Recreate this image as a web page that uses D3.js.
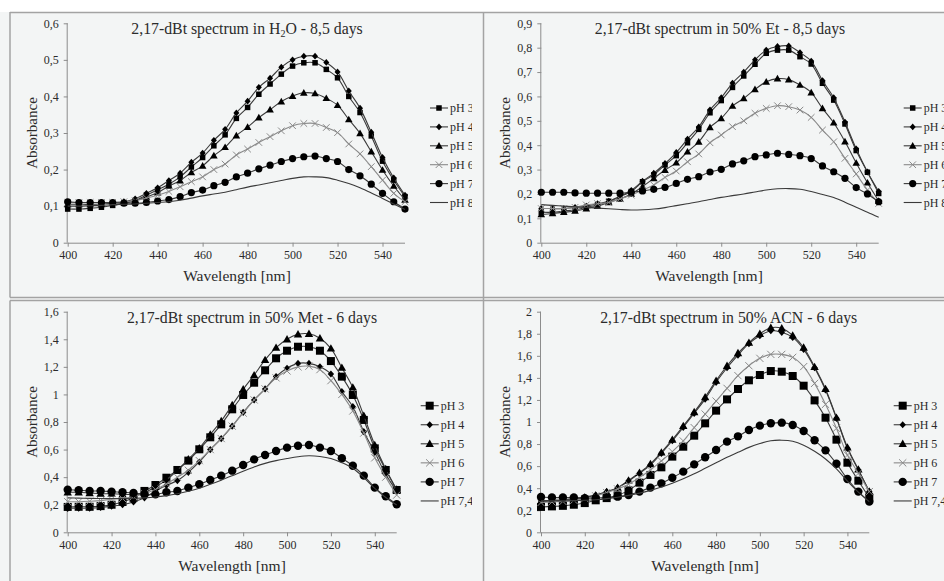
<!DOCTYPE html>
<html>
<head>
<meta charset="utf-8">
<script src="https://cdn.jsdelivr.net/npm/d3@7"></script>
<style>
body { margin: 0; background: #fff; }
svg { display: block; }
svg text { font-family: "Liberation Serif", "Times New Roman", Times, serif; }
</style>
</head>
<body>
<script>
// wavelengths (nm), one reading every 5 nm
const wavelengths = [400,405,410,415,420,425,430,435,440,445,450,455,460,465,470,475,480,485,490,495,500,505,510,515,520,525,530,535,540,545,550];
const xTicks = [400,420,440,460,480,500,520,540];

// H2O - 8,5 days
const h2o_pH3 = [0.092,0.092,0.094,0.097,0.102,0.108,0.115,0.13,0.145,0.16,0.18,0.207,0.233,0.265,0.295,0.34,0.37,0.406,0.434,0.461,0.483,0.492,0.492,0.474,0.451,0.40,0.356,0.292,0.223,0.171,0.126];
const h2o_pH4 = [0.11,0.11,0.11,0.11,0.11,0.112,0.12,0.135,0.15,0.17,0.19,0.22,0.245,0.28,0.31,0.355,0.387,0.425,0.45,0.48,0.5,0.51,0.51,0.493,0.467,0.415,0.368,0.302,0.233,0.177,0.13];
const h2o_pH5 = [0.105,0.105,0.105,0.106,0.108,0.11,0.115,0.125,0.137,0.155,0.17,0.192,0.21,0.238,0.261,0.293,0.316,0.342,0.364,0.386,0.401,0.41,0.408,0.395,0.376,0.337,0.299,0.249,0.199,0.155,0.117];
const h2o_pH6 = [0.11,0.11,0.11,0.11,0.11,0.112,0.115,0.122,0.13,0.14,0.153,0.167,0.18,0.2,0.215,0.24,0.256,0.274,0.29,0.306,0.32,0.326,0.326,0.315,0.301,0.27,0.243,0.208,0.171,0.135,0.112];
const h2o_pH7 = [0.112,0.11,0.11,0.11,0.11,0.108,0.108,0.11,0.114,0.118,0.126,0.137,0.144,0.156,0.165,0.18,0.19,0.202,0.212,0.222,0.23,0.235,0.237,0.23,0.222,0.2,0.183,0.16,0.135,0.112,0.092];
const h2o_pH8 = [0.1,0.1,0.101,0.102,0.104,0.105,0.106,0.108,0.11,0.112,0.116,0.122,0.128,0.133,0.138,0.145,0.152,0.158,0.164,0.17,0.176,0.18,0.18,0.178,0.171,0.162,0.15,0.136,0.121,0.106,0.091];

// 50% Et - 8,5 days
const et_pH3 = [0.125,0.125,0.13,0.135,0.145,0.155,0.17,0.19,0.21,0.25,0.278,0.319,0.357,0.41,0.465,0.533,0.583,0.637,0.684,0.732,0.777,0.79,0.79,0.763,0.733,0.654,0.585,0.487,0.378,0.289,0.202];
const et_pH4 = [0.14,0.14,0.14,0.145,0.15,0.16,0.17,0.19,0.215,0.252,0.285,0.325,0.37,0.425,0.475,0.545,0.595,0.655,0.7,0.75,0.79,0.805,0.807,0.78,0.745,0.665,0.595,0.495,0.385,0.29,0.21];
const et_pH5 = [0.116,0.12,0.125,0.13,0.14,0.15,0.165,0.18,0.2,0.23,0.264,0.298,0.328,0.373,0.414,0.473,0.51,0.561,0.592,0.629,0.66,0.673,0.669,0.647,0.616,0.551,0.492,0.415,0.327,0.246,0.171];
const et_pH6 = [0.14,0.14,0.14,0.145,0.155,0.16,0.165,0.18,0.195,0.216,0.237,0.268,0.294,0.332,0.364,0.41,0.442,0.476,0.5,0.531,0.551,0.562,0.558,0.544,0.514,0.462,0.414,0.346,0.282,0.216,0.161];
const et_pH7 = [0.207,0.207,0.207,0.204,0.203,0.203,0.203,0.203,0.207,0.212,0.219,0.227,0.243,0.26,0.271,0.29,0.301,0.323,0.336,0.353,0.36,0.367,0.362,0.357,0.345,0.315,0.291,0.264,0.226,0.2,0.168];
const et_pH8 = [0.156,0.153,0.15,0.147,0.145,0.142,0.139,0.136,0.134,0.135,0.138,0.144,0.152,0.16,0.168,0.177,0.186,0.193,0.2,0.208,0.216,0.221,0.222,0.219,0.21,0.198,0.185,0.166,0.145,0.125,0.104];

// 50% Met - 6 days
const met_pH3 = [0.184,0.185,0.185,0.19,0.2,0.22,0.25,0.3,0.343,0.396,0.452,0.52,0.602,0.689,0.783,0.892,0.996,1.085,1.175,1.262,1.317,1.346,1.346,1.317,1.242,1.129,0.996,0.815,0.609,0.452,0.307];
const met_pH4 = [0.174,0.175,0.175,0.18,0.19,0.2,0.22,0.25,0.3,0.34,0.375,0.435,0.51,0.6,0.68,0.77,0.87,0.96,1.04,1.13,1.19,1.225,1.225,1.2,1.148,1.02,0.911,0.73,0.58,0.42,0.3];
const met_pH5 = [0.29,0.29,0.285,0.28,0.28,0.275,0.275,0.29,0.33,0.38,0.45,0.53,0.61,0.71,0.807,0.923,1.037,1.14,1.25,1.339,1.4,1.436,1.44,1.407,1.334,1.194,1.051,0.846,0.633,0.46,0.31];
const met_pH6 = [0.222,0.222,0.225,0.23,0.24,0.245,0.26,0.28,0.31,0.35,0.4,0.45,0.52,0.6,0.68,0.77,0.865,0.96,1.04,1.12,1.17,1.2,1.205,1.18,1.1,1.0,0.88,0.72,0.54,0.4,0.27];
const met_pH7 = [0.309,0.305,0.3,0.3,0.295,0.29,0.285,0.275,0.275,0.29,0.3,0.324,0.348,0.379,0.411,0.447,0.488,0.529,0.561,0.59,0.614,0.628,0.633,0.614,0.59,0.537,0.483,0.411,0.324,0.261,0.203];
const met_pH74 = [0.25,0.248,0.246,0.245,0.245,0.245,0.247,0.25,0.256,0.266,0.28,0.298,0.32,0.348,0.378,0.41,0.443,0.474,0.5,0.52,0.535,0.548,0.555,0.55,0.535,0.505,0.464,0.396,0.318,0.252,0.198];

// 50% ACN - 6 days
const acn_pH3 = [0.23,0.235,0.24,0.25,0.265,0.29,0.31,0.335,0.38,0.45,0.52,0.589,0.686,0.776,0.876,0.988,1.103,1.205,1.299,1.378,1.426,1.462,1.456,1.417,1.329,1.196,1.039,0.84,0.631,0.468,0.314];
const acn_pH4 = [0.285,0.29,0.295,0.305,0.32,0.338,0.369,0.405,0.465,0.535,0.61,0.716,0.83,0.952,1.079,1.208,1.36,1.492,1.607,1.71,1.782,1.828,1.813,1.767,1.659,1.492,1.29,1.033,0.761,0.565,0.369];
const acn_pH5 = [0.28,0.285,0.29,0.3,0.315,0.335,0.365,0.405,0.47,0.54,0.62,0.725,0.84,0.965,1.09,1.225,1.375,1.51,1.625,1.72,1.8,1.855,1.85,1.785,1.675,1.5,1.3,1.04,0.77,0.57,0.37];
const acn_pH6 = [0.27,0.275,0.28,0.29,0.305,0.33,0.36,0.393,0.435,0.498,0.565,0.647,0.731,0.828,0.949,1.072,1.19,1.305,1.42,1.51,1.577,1.613,1.613,1.586,1.502,1.35,1.16,0.943,0.7,0.535,0.369];
const acn_pH7 = [0.32,0.315,0.315,0.315,0.31,0.31,0.315,0.323,0.338,0.369,0.405,0.444,0.495,0.55,0.616,0.68,0.746,0.822,0.87,0.927,0.967,0.988,0.994,0.973,0.918,0.834,0.743,0.622,0.483,0.369,0.278];
const acn_pH74 = [0.285,0.285,0.285,0.287,0.29,0.295,0.305,0.318,0.335,0.355,0.38,0.41,0.445,0.485,0.53,0.58,0.63,0.68,0.725,0.77,0.805,0.83,0.835,0.825,0.79,0.735,0.665,0.575,0.465,0.365,0.278];

const legendTop = ["pH 3","pH 4","pH 5","pH 6","pH 7","pH 8"];
const legendBottom = ["pH 3","pH 4","pH 5","pH 6","pH 7","pH 7,4"];
const markers = ["square","diamond","triangle","x","circle","none"];

const yTicksH2O = [0,0.1,0.2,0.3,0.4,0.5,0.6];
const yTicksEt = [0,0.1,0.2,0.3,0.4,0.5,0.6,0.7,0.8,0.9];
const yTicksMet = [0,0.2,0.4,0.6,0.8,1,1.2,1.4,1.6];
const yTicksACN = [0,0.2,0.4,0.6,0.8,1,1.2,1.4,1.6,1.8,2];

const W = 944, H = 581;
const bg = "#f3f5f5";
const ink = "#2b2b2b";
const serif = "'Liberation Serif', 'Times New Roman', Times, serif";

const svg = d3.select("body").append("svg")
  .attr("width", W)
  .attr("height", H)
  .attr("font-family", serif)

svg.append("rect").attr("width", W).attr("height", H).attr("fill", bg)
svg.append("rect").attr("width", W).attr("height", 12).attr("fill", "#fff")

// table cell borders
const borders = svg.append("g").attr("stroke", "#a3a3a3").attr("stroke-width", 1.5)
borders.append("line").attr("x1", 10).attr("x2", W).attr("y1", 12.5).attr("y2", 12.5)
borders.append("line").attr("x1", 10).attr("x2", W).attr("y1", 297.5).attr("y2", 297.5)
borders.append("line").attr("x1", 10).attr("x2", W).attr("y1", 300.5).attr("y2", 300.5)
borders.append("line").attr("x1", 10).attr("x2", 10).attr("y1", 12).attr("y2", 297.5)
borders.append("line").attr("x1", 10).attr("x2", 10).attr("y1", 300.5).attr("y2", H)
borders.append("line").attr("x1", 483.5).attr("x2", 483.5).attr("y1", 12).attr("y2", H)

const fmt = d => String(d).replace(".", ",");

const panels = [
  {
    title: [["2,17-dBt spectrum in H", false], ["2", true], ["O - 8,5 days", false]],
    series: [h2o_pH3, h2o_pH4, h2o_pH5, h2o_pH6, h2o_pH7, h2o_pH8],
    legend: legendTop, yTicks: yTicksH2O, yMax: 0.6, big: false,
    x0: 67.7, x1: 405, y0: 242.7, y1: 23.3,
    titleX: 247, titleY: 34, xlabX: 237, xlabY: 281, ylabX: 37, ylabY: 133,
    legX: 430, legY: 108, legStep: 18.9, clip: [10, 12, 462, 286]
  },
  {
    title: [["2,17-dBt spectrum in 50% Et - 8,5 days", false]],
    series: [et_pH3, et_pH4, et_pH5, et_pH6, et_pH7, et_pH8],
    legend: legendTop, yTicks: yTicksEt, yMax: 0.9, big: false,
    x0: 541.3, x1: 878.7, y0: 242.7, y1: 23.3,
    titleX: 720, titleY: 34, xlabX: 709, xlabY: 281, ylabX: 510, ylabY: 133,
    legX: 903.7, legY: 108, legStep: 18.9, clip: [484, 12, 460, 286]
  },
  {
    title: [["2,17-dBt spectrum in 50% Met - 6 days", false]],
    series: [met_pH3, met_pH4, met_pH5, met_pH6, met_pH7, met_pH74],
    legend: legendBottom, yTicks: yTicksMet, yMax: 1.6, big: true,
    x0: 67.7, x1: 396.7, y0: 532.3, y1: 311.7,
    titleX: 252, titleY: 322.5, xlabX: 232, xlabY: 570.5, ylabX: 37, ylabY: 422,
    legX: 420.7, legY: 405.7, legStep: 19.05, clip: [10, 301, 462, 280]
  },
  {
    title: [["2,17-dBt spectrum in 50% ACN - 6 days", false]],
    series: [acn_pH3, acn_pH4, acn_pH5, acn_pH6, acn_pH7, acn_pH74],
    legend: legendBottom, yTicks: yTicksACN, yMax: 2, big: true,
    x0: 541, x1: 869.3, y0: 532.3, y1: 311.7,
    titleX: 728.7, titleY: 322.5, xlabX: 705, xlabY: 570.5, ylabX: 510, ylabY: 422,
    legX: 893.7, legY: 405.7, legStep: 19.05, clip: [484, 301, 460, 280]
  }
];

function drawMarker(g, type, x, y, big, color) {
  if (type === "square") {
    const s = big ? 8 : 5.5;
    g.append("rect").attr("x", x - s / 2).attr("y", y - s / 2).attr("width", s).attr("height", s).attr("fill", "#000")
  } else if (type === "diamond") {
    const h = big ? 3.6 : 3.4, w = big ? 3.2 : 3;
    g.append("path").attr("d", `M${x},${y - h}L${x + w},${y}L${x},${y + h}L${x - w},${y}Z`).attr("fill", "#000")
  } else if (type === "triangle") {
    const s = big ? 4.2 : 3.8;
    g.append("path").attr("d", `M${x},${y - s}L${x + s},${y + s * 0.75}L${x - s},${y + s * 0.75}Z`).attr("fill", "#000")
  } else if (type === "x") {
    const s = big ? 3.6 : 3.3;
    g.append("path").attr("d", `M${x - s},${y - s}L${x + s},${y + s}M${x - s},${y + s}L${x + s},${y - s}`)
      .attr("stroke", color).attr("stroke-width", 1).attr("fill", "none")
  } else if (type === "circle") {
    g.append("circle").attr("cx", x).attr("cy", y).attr("r", big ? 4.2 : 3.6).attr("fill", "#000")
  }
}

panels.forEach((p, pi) => {
  const clipId = "clip" + pi;
  svg.append("clipPath").attr("id", clipId)
    .append("rect").attr("x", p.clip[0]).attr("y", p.clip[1]).attr("width", p.clip[2]).attr("height", p.clip[3])
  const g = svg.append("g").attr("clip-path", `url(#${clipId})`)

  const x = d3.scaleLinear().domain([400, 550]).range([p.x0, p.x1])
  const y = d3.scaleLinear().domain([0, p.yMax]).range([p.y0, p.y1])

  // axes
  const yAxis = g.append("g").attr("transform", `translate(${p.x0},0)`)
    .call(d3.axisLeft(y).tickValues(p.yTicks).tickSize(4).tickPadding(5).tickFormat(fmt))
  const xAxis = g.append("g").attr("transform", `translate(0,${p.y0})`)
    .call(d3.axisBottom(x).tickValues(xTicks).tickSize(4).tickPadding(4).tickFormat(d3.format("d")))
  ;[xAxis, yAxis].forEach(a => {
    a.attr("font-family", serif).attr("font-size", 12)
    a.select(".domain").attr("stroke", "#8c8c8c").attr("stroke-width", 1)
    a.selectAll(".tick line").attr("stroke", "#8c8c8c")
    a.selectAll("text").attr("fill", ink).attr("font-size", 12).attr("font-family", serif)
  })
  xAxis.select(".domain").attr("d", `M${p.x0},0.5H${p.x1}`)
  yAxis.select(".domain").attr("d", `M-0.5,${p.y0}V${p.y1}`)

  // series
  const line = d3.line()
    .x((d, i) => x(wavelengths[i]))
    .y(d => y(d))
    .curve(d3.curveCatmullRom)

  p.series.forEach((vals, si) => {
    const col = markers[si] === "x" ? "#8a8a8a" : "#3a3a3a";
    g.append("path").datum(vals)
      .attr("d", line)
      .attr("fill", "none")
      .attr("stroke", col)
      .attr("stroke-width", 1.1)
    if (markers[si] !== "none") {
      const mg = g.append("g")
      vals.forEach((v, i) => drawMarker(mg, markers[si], x(wavelengths[i]), y(v), p.big, col))
    }
  })

  // title
  const t = g.append("text").attr("x", p.titleX).attr("y", p.titleY)
    .attr("text-anchor", "middle").attr("font-size", 15.8).attr("fill", ink).attr("font-family", serif)
  p.title.forEach(([txt, sub], k) => {
    const ts = t.append("tspan").text(txt)
    if (sub) ts.attr("font-size", 10).attr("dy", 3)
    else if (k > 0) ts.attr("dy", -3)
  })

  g.append("text").attr("x", p.xlabX).attr("y", p.xlabY)
    .attr("text-anchor", "middle").attr("font-size", 15.5).attr("fill", ink).attr("font-family", serif)
    .text("Wavelength [nm]")

  g.append("text")
    .attr("transform", `translate(${p.ylabX},${p.ylabY}) rotate(-90)`)
    .attr("text-anchor", "middle").attr("font-size", 15).attr("fill", ink).attr("font-family", serif)
    .text("Absorbance")

  // legend
  p.legend.forEach((name, li) => {
    const ly = p.legY + li * p.legStep;
    const col = markers[li] === "x" ? "#8a8a8a" : "#3a3a3a";
    g.append("line").attr("x1", p.legX).attr("x2", p.legX + 18).attr("y1", ly).attr("y2", ly)
      .attr("stroke", col).attr("stroke-width", 1.1)
    drawMarker(g, markers[li], p.legX + 9, ly, p.big, col)
    g.append("text").attr("x", p.legX + 20).attr("y", ly + 4)
      .attr("font-size", 12).attr("fill", ink).attr("font-family", serif).text(name)
  })
})
</script>
</body>
</html>
